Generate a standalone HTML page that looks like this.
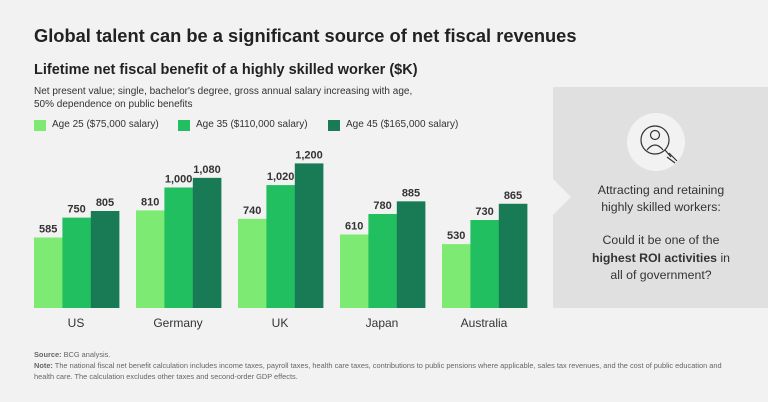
<!DOCTYPE html>
<html><head><style>
body{margin:0;width:768px;height:402px;background:#f2f2f2;font-family:"Liberation Sans",sans-serif;color:#333;position:relative;overflow:hidden}
.a{position:absolute;white-space:nowrap}
.k{position:absolute;top:120px;width:12px;height:11px}
</style></head><body>
<div class="a" style="left:34px;top:25px;font-size:18.3px;font-weight:bold;color:#222">Global talent can be a significant source of net fiscal revenues</div>
<div class="a" style="left:34px;top:62px;font-size:14.5px;font-weight:bold;color:#222">Lifetime net fiscal benefit of a highly skilled worker ($K)</div>
<div class="a" style="left:34px;top:85px;font-size:10px;line-height:13px;color:#333">Net present value; single, bachelor's degree, gross annual salary increasing with age,<br>50% dependence on public benefits</div>
<div class="k" style="left:34px;background:#7deb73"></div><div class="a" style="left:52px;top:119px;font-size:10px">Age 25 ($75,000 salary)</div>
<div class="k" style="left:178px;background:#21bf5f"></div><div class="a" style="left:196px;top:119px;font-size:10px">Age 35 ($110,000 salary)</div>
<div class="k" style="left:328px;background:#197a56"></div><div class="a" style="left:346px;top:119px;font-size:10px">Age 45 ($165,000 salary)</div>
<svg class="a" style="left:0;top:0" width="768" height="402">
<g font-family="Liberation Sans" font-size="11" font-weight="bold" fill="#333" text-anchor="middle" id="g"></g>
<g font-family="Liberation Sans" font-size="12" fill="#333" text-anchor="middle">
<text x="76" y="327">US</text><text x="178" y="327">Germany</text><text x="280" y="327">UK</text><text x="382" y="327">Japan</text><text x="484" y="327">Australia</text></g>
<polygon points="553,87 768,87 768,308 553,308 553,215 571,197 553,179" fill="#e0e0e0"/>
<circle cx="656" cy="142" r="29" fill="#f2f2f2"/>
<g stroke="#333" stroke-width="1.2" fill="none">
<circle cx="655" cy="140" r="14"/><circle cx="655" cy="135" r="4.5"/>
<path d="M647,150 Q655,140 663,150"/><path d="M665,150 L671,157 M667,157 L675,163 M669,153 L677,161" /></g>
<g font-family="Liberation Sans" font-size="12.3" fill="#333" text-anchor="middle">
<text x="661" y="194">Attracting and retaining</text><text x="661" y="211">highly skilled workers:</text>
<text x="661" y="244">Could it be one of the</text>
<text x="661" y="262"><tspan font-weight="bold">highest ROI activities</tspan> in</text>
<text x="661" y="279">all of government?</text></g>
</svg>
<div class="a" style="left:34px;top:349px;font-size:7.4px;line-height:11px;color:#666;white-space:normal;width:700px"><b>Source:</b> BCG analysis.<br><b>Note:</b> The national fiscal net benefit calculation includes income taxes, payroll taxes, health care taxes, contributions to public pensions where applicable, sales tax revenues, and the cost of public education and health care. The calculation excludes other taxes and second-order GDP effects.</div>
<script>
var d=[[585,750,805],[810,1000,1080],[740,1020,1200],[610,780,885],[530,730,865]],c=["#7deb73","#21bf5f","#197a56"],s="";
d.forEach(function(g,i){g.forEach(function(v,j){var x=34+i*102+j*28.4,h=v*0.1205,y=308-h;
s+='<rect x="'+x+'" y="'+y+'" width="28.6" height="'+h+'" fill="'+c[j]+'"/>';
s+='<text x="'+(x+14.2)+'" y="'+(y-5)+'">'+v.toLocaleString("en-US")+'</text>';});});
document.getElementById("g").innerHTML=s;
</script>
</body></html>
